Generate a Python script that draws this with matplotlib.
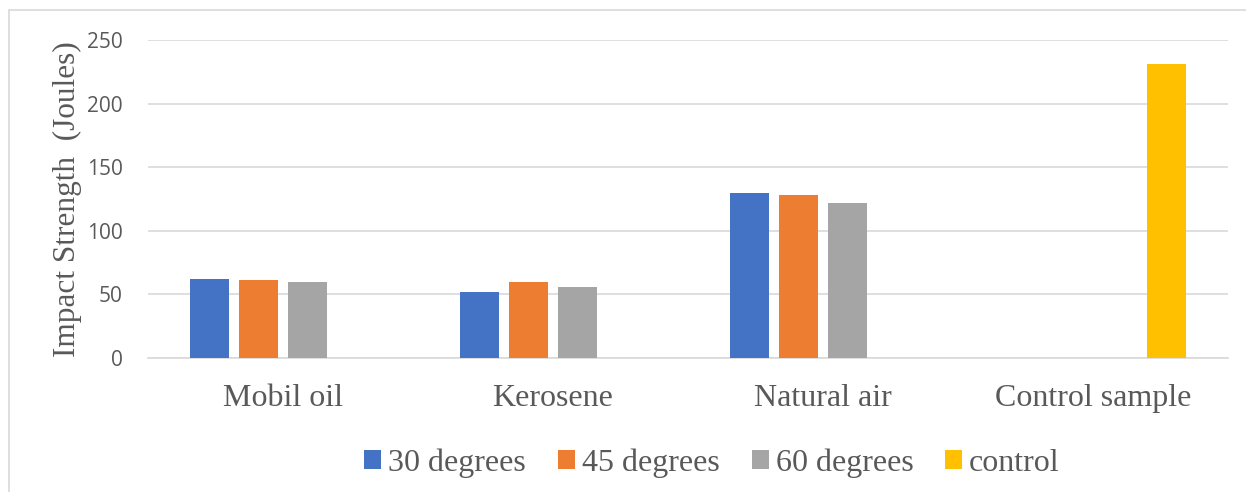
import matplotlib
matplotlib.use("Agg")
import matplotlib.pyplot as plt
from matplotlib.patches import Rectangle
import numpy as np

categories = ["Mobil oil", "Kerosene", "Natural air", "Control sample"]
series_names = ["30 degrees", "45 degrees", "60 degrees", "control"]
deg30 = [62, 52, 130, np.nan]
deg45 = [61, 60, 128, np.nan]
deg60 = [60, 56, 122, np.nan]
control = [np.nan, np.nan, np.nan, 231]
colors = ["#4472C4", "#ED7D31", "#A5A5A5", "#FFC000"]
yticks = [0, 50, 100, 150, 200, 250]

fig = plt.figure(figsize=(12.46, 4.92), dpi=100)
fig.patches.append(Rectangle((9/1246, -0.1), 1.2, (492-10)/492 + 0.1,
                             transform=fig.transFigure, fill=False,
                             edgecolor="#D9D9D9", linewidth=1.2))
ax = fig.add_axes([148/1246, (492-358)/492, (1228-148)/1246, 318/492])

x = np.arange(len(categories))
slot = 49/270
width = 39/270
for i, (vals, name, c) in enumerate(zip([deg30, deg45, deg60, control], series_names, colors)):
    ax.bar(x + (i - 1.5)*slot, vals, width=width, color=c, label=name, zorder=3)

ax.set_xlim(-0.5, len(categories) - 0.5)
ax.set_ylim(0, 250)
ax.set_yticks(yticks)
ax.set_yticklabels([str(t) for t in yticks], fontfamily="Open Sans", fontsize=15, color="#595959")
ax.set_xticks(x)
ax.set_xticklabels(categories, fontfamily="Liberation Serif", fontsize=23, color="#595959")
ax.tick_params(axis="both", length=0)
ax.tick_params(axis="y", pad=18)
ax.tick_params(axis="x", pad=19)
ax.grid(axis="y", color="#D9D9D9", linewidth=1.2, zorder=0)
for s in ["top", "right", "left"]:
    ax.spines[s].set_visible(False)
ax.spines["bottom"].set_color("#D9D9D9")
ax.spines["bottom"].set_linewidth(1.2)
ax.set_ylabel("Impact Strength  (Joules)", fontfamily="Liberation Serif", fontsize=22.5,
              color="#595959", labelpad=4)

leg = fig.legend(loc="center", bbox_to_anchor=(0.5715, (492-463)/492), ncol=4, frameon=False,
                 prop={"family": "Liberation Serif", "size": 23}, handlelength=0.53, handleheight=0.53,
                 handletextpad=0.22, columnspacing=1.0)
for t in leg.get_texts():
    t.set_color("#595959")

fig.savefig("out.png", dpi=100)
